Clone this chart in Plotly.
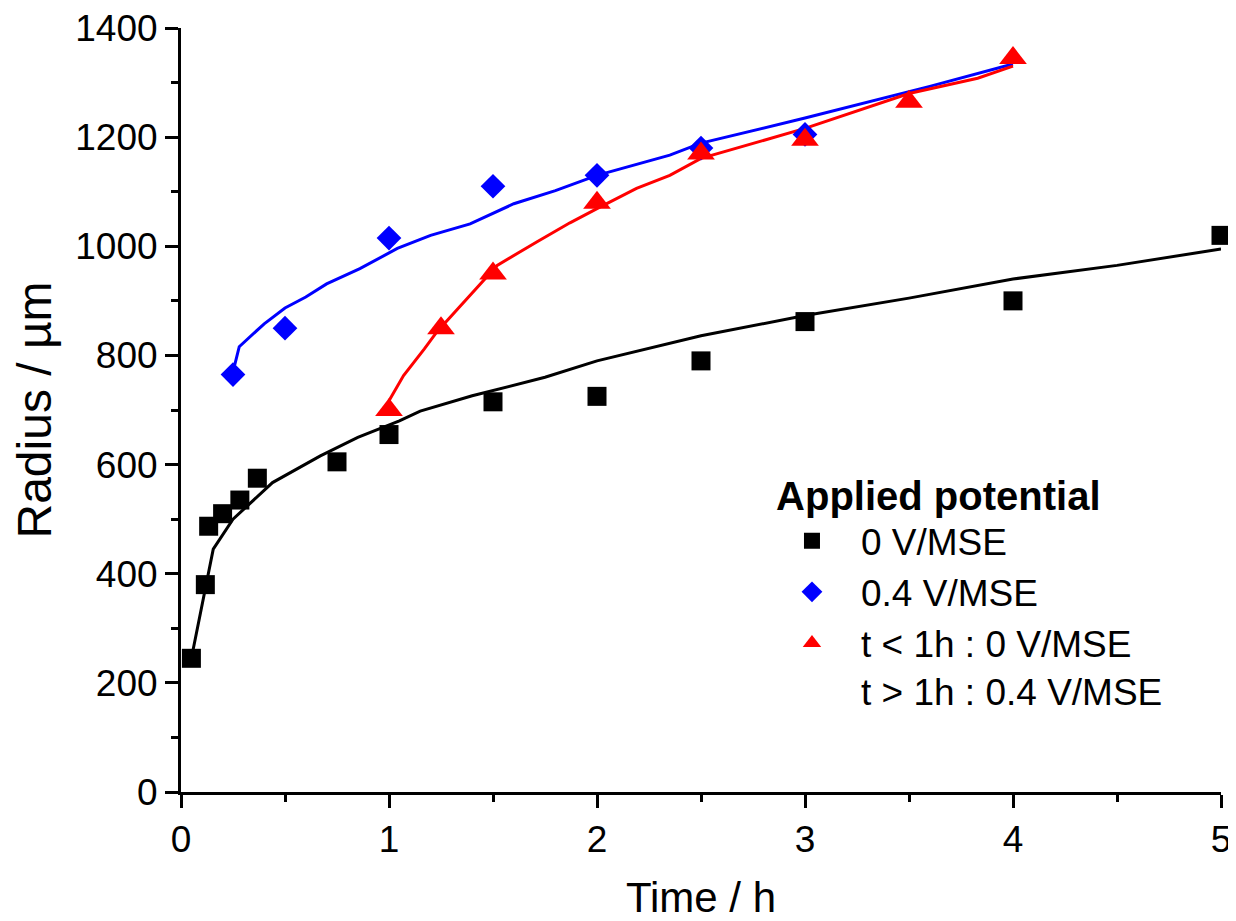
import plotly.graph_objects as go

# ---- data ----
t_0V = [0.05, 0.117, 0.133, 0.2, 0.283, 0.367, 0.75, 1.0, 1.5, 2.0, 2.5, 3.0, 4.0, 5.0]
r_0V = [245, 380, 487, 510, 535, 575, 605, 655, 715, 725, 790, 862, 900, 1020]

t_04V = [0.25, 0.5, 1.0, 1.5, 2.0, 2.5, 3.0]
r_04V = [765, 850, 1015, 1110, 1130, 1180, 1205]

t_sw = [1.0, 1.25, 1.5, 2.0, 2.5, 3.0, 3.5, 4.0]
r_sw = [700, 850, 950, 1080, 1170, 1195, 1265, 1345]

fit_t_0V = [0.05, 0.155, 0.25, 0.44, 0.67, 0.85, 1.05, 1.15, 1.4, 1.75, 2.0, 2.5, 3.0, 3.5, 4.0, 4.5, 5.0]
fit_r_0V = [245, 445, 500, 567, 616, 650, 680, 698, 726, 760, 790, 836, 873, 905, 940, 965, 995]

fit_t_04V = [0.25, 0.28, 0.4, 0.5, 0.6, 0.7, 0.86, 1.04, 1.2, 1.39, 1.6, 1.8, 2.0, 2.35, 2.5, 3.0, 3.6, 4.0]
fit_r_04V = [770, 816, 858, 887, 907, 931, 959, 996, 1020, 1041, 1078, 1102, 1130, 1167, 1189, 1235, 1293, 1334]

fit_t_sw = [1.0, 1.07, 1.17, 1.23, 1.33, 1.39, 1.52, 1.71, 1.87, 2.0, 2.19, 2.35, 2.5, 3.0, 3.5, 3.83, 4.0]
fit_r_sw = [717, 763, 812, 843, 885, 910, 965, 1008, 1043, 1069, 1106, 1130, 1161, 1216, 1280, 1308, 1330]

x_ticks = [0, 1, 2, 3, 4, 5]
y_ticks = [0, 200, 400, 600, 800, 1000, 1200, 1400]

FONT = "Liberation Sans, Arial, sans-serif"

fig = go.Figure()

# fitted curves (no legend)
fig.add_trace(go.Scatter(x=fit_t_0V, y=fit_r_0V, mode="lines",
                         line=dict(color="black", width=3), showlegend=False, hoverinfo="skip"))
fig.add_trace(go.Scatter(x=fit_t_04V, y=fit_r_04V, mode="lines",
                         line=dict(color="#0000ff", width=3), showlegend=False, hoverinfo="skip"))
fig.add_trace(go.Scatter(x=fit_t_sw, y=fit_r_sw, mode="lines",
                         line=dict(color="#ff0000", width=3), showlegend=False, hoverinfo="skip"))

# measured points
fig.add_trace(go.Scatter(x=t_0V, y=r_0V, mode="markers", name="0 V/MSE",
                         marker=dict(symbol="square", size=19, color="black"), cliponaxis=False))
fig.add_trace(go.Scatter(x=t_04V, y=r_04V, mode="markers", name="0.4 V/MSE",
                         marker=dict(symbol="diamond", size=19, color="#0000ff"), cliponaxis=False))
fig.add_trace(go.Scatter(x=t_sw, y=r_sw, mode="markers",
                         name="t < 1h : 0 V/MSE<br>t > 1h : 0.4 V/MSE",
                         marker=dict(symbol="triangle-up", size=24, color="#ff0000"), cliponaxis=False))

# page body has an 8px default margin, so the figure is sized/offset to compensate
fig.update_layout(
    width=1228, height=913,
    margin=dict(l=173, r=15, t=20, b=129, autoexpand=False),
    paper_bgcolor="white", plot_bgcolor="white",
    font=dict(family=FONT, color="black", size=37),
    legend=dict(
        title=dict(text="<b>&nbsp;Applied potential</b>", font=dict(size=40)),
        font=dict(size=37),
        x=0.5596, y=0.437, xanchor="left", yanchor="top",
        bgcolor="rgba(0,0,0,0)", valign="top",
        tracegroupgap=0, itemsizing="trace", itemwidth=88,
    ),
    xaxis=dict(
        range=[0, 5], tickvals=x_ticks, ticktext=[str(v) for v in x_ticks],
        showline=True, linecolor="black", linewidth=3,
        ticks="outside", ticklen=13, tickwidth=3, tickcolor="black",
        minor=dict(dtick=0.5, ticks="outside", ticklen=7, tickwidth=3, tickcolor="black"),
        showgrid=False, zeroline=False, automargin=False, ticklabeloverflow="allow",
        tickfont=dict(size=37),
        title=dict(text="Time / h", font=dict(size=42), standoff=24),
    ),
    yaxis=dict(
        range=[0, 1400], tickvals=y_ticks, ticktext=[str(v) for v in y_ticks],
        showline=True, linecolor="black", linewidth=3,
        ticks="outside", ticklen=13, tickwidth=3, tickcolor="black",
        minor=dict(dtick=100, ticks="outside", ticklen=7, tickwidth=3, tickcolor="black"),
        showgrid=False, zeroline=False, automargin=False, ticklabeloverflow="allow",
        tickfont=dict(size=37),
        title=dict(text="Radius / µm", font=dict(size=48), standoff=22),
    ),
)

fig.write_html("out.html")
